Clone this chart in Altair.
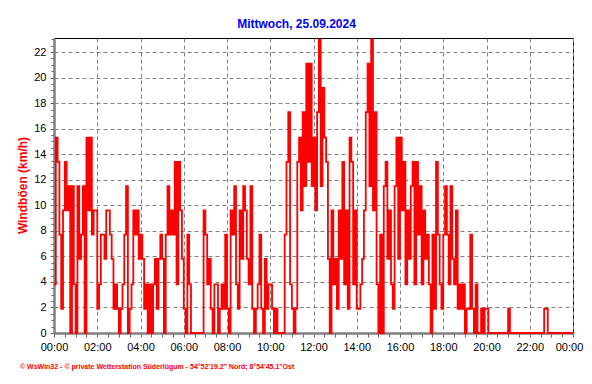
import altair as alt
import pandas as pd

# Wind gusts (km/h), 5-minute steps from 00:00 to 24:00
gusts = (
    [3.8, 15.3, 13.4, 7.7, 1.9, 9.6, 13.4, 9.6, 11.5, 0, 11.5, 3.8]          # 00
    + [0, 11.5, 5.8, 7.7, 11.5, 0, 15.3, 9.6, 15.3, 7.7, 9.6, 9.6]          # 01
    + [1.9, 3.8, 7.7, 7.7, 5.8, 9.6, 9.6, 7.7, 5.8, 1.9, 3.8, 1.9]          # 02
    + [0, 1.9, 3.8, 7.7, 11.5, 0, 1.9, 3.8, 9.6, 7.7, 9.6, 5.8]             # 03
    + [7.7, 5.8, 1.9, 3.8, 0, 3.8, 0, 3.8, 5.8, 1.9, 5.8, 7.7]              # 04
    + [5.8, 0, 7.7, 11.5, 7.7, 9.6, 7.7, 13.4, 3.8, 13.4, 9.6, 5.8]         # 05
    + [1.9, 0, 7.7, 3.8, 0, 0, 0, 0, 0, 0, 0, 9.6]                          # 06
    + [7.7, 3.8, 5.8, 1.9, 0, 3.8, 3.8, 0, 1.9, 3.8, 1.9, 7.7]              # 07
    + [1.9, 0, 9.6, 7.7, 11.5, 3.8, 1.9, 9.6, 5.8, 11.5, 9.6, 5.8]          # 08
    + [3.8, 11.5, 1.9, 0, 1.9, 3.8, 7.7, 1.9, 0, 5.8, 1.9, 3.8]             # 09
    + [3.8, 1.9, 0, 1.9, 0, 0, 0, 0, 7.7, 13.4, 17.3, 3.8]                  # 10
    + [1.9, 0, 1.9, 13.4, 15.3, 9.6, 17.3, 11.5, 21.1, 13.4, 21.1, 11.5]    # 11
    + [15.3, 9.6, 17.3, 23.0, 11.5, 19.2, 15.3, 13.4, 5.8, 0, 9.6, 3.8]     # 12
    + [5.8, 1.9, 9.6, 5.8, 13.4, 3.8, 9.6, 1.9, 15.3, 13.4, 3.8, 9.6]       # 13
    + [1.9, 1.9, 3.8, 5.8, 9.6, 17.3, 21.1, 11.5, 23.0, 9.6, 17.3, 3.8]     # 14
    + [0, 7.7, 0, 11.5, 13.4, 5.8, 9.6, 3.8, 1.9, 11.5, 15.3, 5.8]          # 15
    + [15.3, 9.6, 13.4, 3.8, 9.6, 5.8, 11.5, 13.4, 3.8, 13.4, 7.7, 11.5]    # 16
    + [3.8, 9.6, 5.8, 7.7, 3.8, 0, 7.7, 1.9, 13.4, 7.7, 3.8, 1.9]           # 17
    + [7.7, 11.5, 7.7, 3.8, 11.5, 5.8, 3.8, 9.6, 1.9, 3.8, 1.9, 3.8]        # 18
    + [0, 1.9, 1.9, 7.7, 1.9, 0, 3.8, 0, 0, 1.9, 0, 1.9]                    # 19
    + [1.9, 0, 0, 0, 0, 0, 0, 0, 0, 0, 0, 0]                                # 20
    + [1.9, 0, 0, 0, 0, 0, 0, 0, 0, 0, 0, 0]                                # 21
    + [0, 0, 0, 0, 0, 0, 0, 0, 1.9, 1.9, 0, 0]                              # 22
    + [0, 0, 0, 0, 0, 0, 0, 0, 0, 0, 0, 0]                                  # 23
    + [0]                                                                   # 24:00
)
step_minutes = 5

x_ticks = [i * 0.5 for i in range(49)]     # every 30 min, labels every 2 h
y_ticks = [i * 0.5 for i in range(47)]     # every 0.5 km/h, labels every 2

title_text = "Mittwoch, 25.09.2024"
y_title = "Windböen (km/h)"
footer_text = ("\u00a9 WsWin32  -  \u00a9 private Wetterstation Süderlügum  -  "
               "54°52'19.2\" Nord; 8°54'45.1\"Ost")

df = pd.DataFrame({
    "h": [i * step_minutes / 60 for i in range(len(gusts))],
    "v": gusts,
})

FONT = "Liberation Sans"
GRID = "#808080"

x_axis = alt.Axis(
    values=x_ticks,
    labelExpr="datum.value % 2 === 0 ? ((datum.value % 24) < 10 ? '0' : '') + (datum.value % 24) + ':00' : ''",
    title=None,
    grid=True,
    gridColor=GRID,
    gridDash=[4, 3],
    gridOpacity={"condition": {"test": "datum.value % 2 === 0", "value": 1}, "value": 0},
    domainColor=GRID,
    domainWidth=2.5,
    tickColor="#606060",
    tickSize=4,
    labelPadding=4,
    labelFont=FONT,
    labelFontSize=11,
    labelColor="#000000",
    labelOverlap=False,
    labelFlush=False,
    labelOffset={"condition": {"test": "datum.value === 24", "value": -4}, "value": 0},
)

y_axis = alt.Axis(
    values=y_ticks,
    labelExpr="datum.value % 2 === 0 ? datum.value : ''",
    title=y_title,
    titleColor="#ff0000",
    titleFont=FONT,
    titleFontSize=12,
    titleFontWeight="bold",
    titleX=-32,
    titleY=147,
    titleAngle=270,
    titleAlign="center",
    titleBaseline="middle",
    grid=True,
    gridColor=GRID,
    gridDash=[4, 3],
    gridOpacity={"condition": {"test": "datum.value % 2 === 0", "value": 1}, "value": 0},
    domainColor=GRID,
    domainWidth=2.5,
    tickColor="#606060",
    tickSize={"condition": {"test": "datum.value % 2 === 0", "value": 4}, "value": 3},
    labelPadding=4,
    labelFont=FONT,
    labelFontSize=11,
    labelColor="#000000",
    labelOverlap=False,
    labelFlush=False,
)

line = alt.Chart(df).mark_line(
    color="#ff0000", strokeWidth=1.8, interpolate="step-after"
).encode(
    x=alt.X("h:Q", scale=alt.Scale(domain=[0, 24], nice=False, zero=False), axis=x_axis),
    y=alt.Y("v:Q", scale=alt.Scale(domain=[0, 23.1], nice=False), axis=y_axis),
)

footer = alt.Chart(pd.DataFrame({"t": [footer_text]})).mark_text(
    color="#ff0000", font=FONT, fontSize=7, fontWeight="bold",
    align="left", baseline="middle"
).encode(
    text="t:N",
    x=alt.value(-34),
    y=alt.value(329),
)

title = alt.Chart(pd.DataFrame({"t": [title_text]})).mark_text(
    color="#0000ff", font=FONT, fontSize=12, fontWeight="bold",
    align="center", baseline="alphabetic"
).encode(
    text="t:N",
    x=alt.value(242.5),
    y=alt.value(-10),
)

chart = alt.layer(line, footer, title).properties(
    width=519,
    height=295,
    autosize=alt.AutoSizeParams(type="none"),
    padding={"left": 46, "top": 30, "right": 11, "bottom": 43},
    background="#ffffff",
).configure_view(
    stroke="#000000", strokeWidth=1
)

chart.save("out.html", embed_options={"renderer": "svg", "actions": False})
